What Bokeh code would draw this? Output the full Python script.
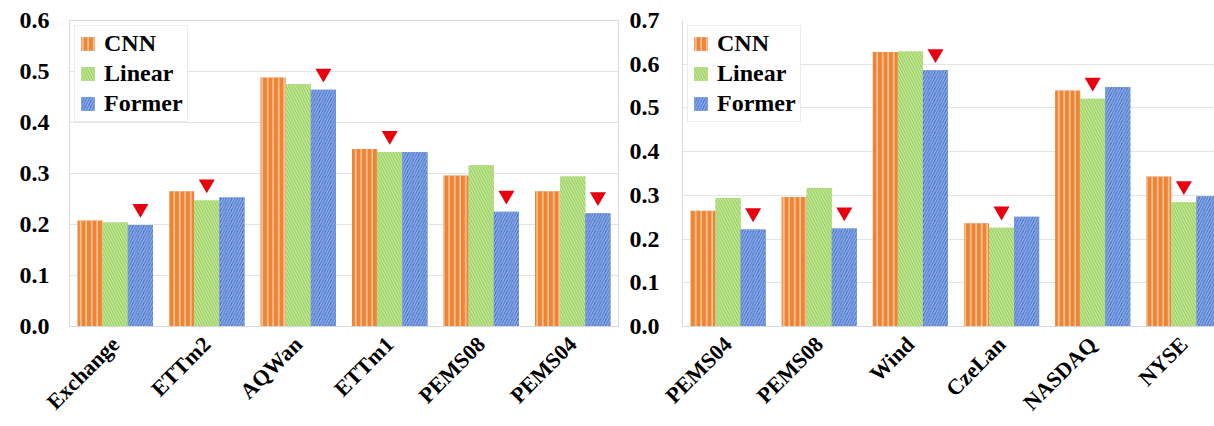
import numpy as np
from bokeh.plotting import figure
from bokeh.layouts import row
from bokeh.models import Range1d, FixedTicker, Legend, LegendItem, NumeralTickFormatter
from bokeh.embed import file_html
from bokeh.resources import INLINE

# ---------------- data ----------------
models = ["CNN", "Linear", "Former"]

left_categories = ["Exchange", "ETTm2", "AQWan", "ETTm1", "PEMS08", "PEMS04"]
left_cnn = [0.208, 0.265, 0.488, 0.348, 0.296, 0.265]
left_linear = [0.204, 0.247, 0.475, 0.342, 0.316, 0.294]
left_former = [0.199, 0.253, 0.464, 0.342, 0.225, 0.222]

right_categories = ["PEMS04", "PEMS08", "Wind", "CzeLan", "NASDAQ", "NYSE"]
right_cnn = [0.265, 0.296, 0.628, 0.236, 0.540, 0.343]
right_linear = [0.294, 0.317, 0.629, 0.226, 0.521, 0.284]
right_former = [0.222, 0.224, 0.586, 0.251, 0.548, 0.298]

left_y_ticks = [0.0, 0.1, 0.2, 0.3, 0.4, 0.5, 0.6]
right_y_ticks = [0.0, 0.1, 0.2, 0.3, 0.4, 0.5, 0.6, 0.7]

# ---------------- style ----------------
FONT = "Liberation Serif"
styles = [
    dict(fill_color="#EE8434", hatch_pattern="|", hatch_color="#FBCDA6"),
    dict(fill_color="#8CCB46", hatch_pattern="\\", hatch_color="#C8E8A4"),
    dict(fill_color="#426EC6", hatch_pattern="/", hatch_color="#93B1EA"),
]
BAR_W = 0.275
offsets = [-BAR_W, 0.0, BAR_W]
GRAY = "#d9d9d9"
H = 426
BORDER_TOP = 20
BORDER_BOTTOM = 100


def make_chart(categories, cnn, linear, former, y_ticks, x_end, width,
               border_left, border_right, standoff, outline):
    y_max = y_ticks[-1]
    p = figure(width=width, height=H,
               x_range=Range1d(-0.5, x_end), y_range=Range1d(0, y_max),
               output_backend="svg", toolbar_location=None,
               min_border_left=border_left, min_border_right=border_right,
               min_border_top=BORDER_TOP, min_border_bottom=BORDER_BOTTOM)
    p.background_fill_color = "white"
    p.border_fill_color = "white"
    p.outline_line_color = GRAY if outline else None

    series = [cnn, linear, former]
    items = []
    n = len(categories)
    for name, vals, off, st in zip(models, series, offsets, styles):
        xs = [i + off for i in range(n)]
        r = p.vbar(x=xs, top=vals, width=BAR_W, line_color=None,
                   hatch_scale=5.5, hatch_weight=1.5, **st)
        items.append(LegendItem(label=name, renderers=[r]))

    # markers above the smallest bar of each group
    frame_h = H - BORDER_TOP - BORDER_BOTTOM
    lift = 16.5 / frame_h * y_max
    best = [int(np.argmin(v)) for v in zip(cnn, linear, former)]
    mx = [i + offsets[b] for i, b in enumerate(best)]
    my = [min(v) + lift for v in zip(cnn, linear, former)]
    p.scatter(mx, my, marker="inverted_triangle", size=16,
              fill_color="#E8000F", line_color=None)

    # axes
    p.xaxis.ticker = FixedTicker(ticks=list(range(n)))
    p.xaxis.major_label_overrides = {i: c for i, c in enumerate(categories)}
    p.xaxis.major_label_orientation = np.pi / 4
    p.xaxis.major_label_text_font = FONT
    p.xaxis.major_label_text_font_style = "bold"
    p.xaxis.major_label_text_font_size = "22px"
    p.xaxis.major_label_text_color = "black"
    p.xaxis.major_tick_line_color = None
    p.xaxis.minor_tick_line_color = None
    p.xaxis.axis_line_color = GRAY
    p.xaxis.major_label_standoff = 8

    p.yaxis.ticker = FixedTicker(ticks=y_ticks)
    p.yaxis.formatter = NumeralTickFormatter(format="0.0")
    p.yaxis.major_label_text_font = FONT
    p.yaxis.major_label_text_font_style = "bold"
    p.yaxis.major_label_text_font_size = "24px"
    p.yaxis.major_label_text_color = "black"
    p.yaxis.major_tick_line_color = None
    p.yaxis.minor_tick_line_color = None
    p.yaxis.axis_line_color = None if outline else GRAY
    p.yaxis.major_label_standoff = standoff

    p.xgrid.visible = False
    p.ygrid.grid_line_color = "#e4e4e4"
    p.ygrid.grid_line_width = 1

    legend = Legend(items=items, location="top_left")
    legend.margin = 5
    legend.padding = 4
    legend.spacing = 3
    legend.label_text_font = FONT
    legend.label_text_font_style = "bold"
    legend.label_text_font_size = "24px"
    legend.label_text_color = "black"
    legend.label_height = 26
    legend.glyph_width = 17
    legend.glyph_height = 17
    legend.label_standoff = 8
    legend.border_line_color = GRAY
    legend.border_line_width = 1
    legend.background_fill_color = "white"
    legend.background_fill_alpha = 1.0
    p.add_layout(legend)
    return p


p_left = make_chart(left_categories, left_cnn, left_linear, left_former,
                    left_y_ticks, 5.5, 626, 69, 8, 14, True)
# right chart: frame ~534px wide at ~91.5px per category -> last bar clipped
p_right = make_chart(right_categories, right_cnn, right_linear, right_former,
                     right_y_ticks, -0.5 + 534 / 91.5, 588, 54, 0, 17, False)

layout = row(p_left, p_right)
open("out.html", "w").write(file_html(layout, INLINE))
